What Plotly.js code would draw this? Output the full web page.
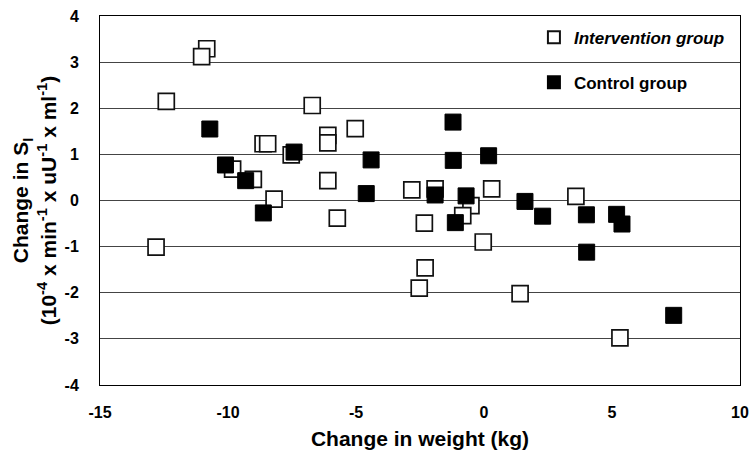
<!DOCTYPE html>
<html>
<head>
<meta charset="utf-8">
<script src="https://cdn.plot.ly/plotly-3.0.1.min.js"></script>
<style>html,body{margin:0;padding:0;background:#fff;}#chart{width:750px;height:458px;}</style>
</head>
<body>
<div id="chart"></div>
<script>
// Intervention group (open squares)
const interventionX = [-10.83, -11.03, -12.41, -6.71, -8.63, -8.45, -7.53, -9.82, -9.01, -8.20, -12.81, -5.03, -6.10, -6.10, -6.10, -2.82, -1.91, -0.51, -0.83, 0.30, -5.73, -2.33, -0.03, -2.30, -2.53, 3.59, 1.41, 5.31];
const interventionY = [3.29, 3.12, 2.15, 2.06, 1.23, 1.23, 0.99, 0.68, 0.46, 0.03, -1.01, 1.56, 1.41, 1.25, 0.43, 0.23, 0.25, -0.11, -0.33, 0.25, -0.38, -0.49, -0.90, -1.46, -1.90, 0.09, -2.02, -2.98];
// Control group (filled squares)
const controlX = [-10.71, -7.42, -10.10, -9.31, -8.62, -1.21, -4.41, -1.20, 0.18, -4.60, -1.91, -0.70, -1.12, 1.60, 2.29, 4.00, 5.18, 5.39, 4.01, 7.41];
const controlY = [1.55, 1.05, 0.77, 0.43, -0.27, 1.70, 0.88, 0.87, 0.97, 0.15, 0.12, 0.10, -0.48, -0.02, -0.34, -0.31, -0.30, -0.51, -1.12, -2.49];
const xTicks = [-15, -10, -5, 0, 5, 10];
const yTicks = [-4, -3, -2, -1, 0, 1, 2, 3, 4];

const font = 'Liberation Sans, Arial, sans-serif';

const traces = [
  {
    x: interventionX, y: interventionY, type: 'scatter', mode: 'markers',
    name: '<b><i>Intervention group</i></b>', legendgroup: 'a',
    marker: {symbol: 'square', size: 16, color: '#ffffff', line: {color: '#111', width: 1.7}}
  },
  {
    x: controlX, y: controlY, type: 'scatter', mode: 'markers',
    name: '<b>Control group</b>', legendgroup: 'b',
    marker: {symbol: 'square', size: 16, color: '#000000', line: {color: '#000', width: 1}}
  }
];

const layout = {
  width: 750, height: 458,
  margin: {l: 100, r: 10, t: 16, b: 73},
  paper_bgcolor: '#fff', plot_bgcolor: '#fff',
  font: {family: font, color: '#000', size: 13},
  showlegend: true,
  legend: {
    x: 0.678, y: 0.99, xanchor: 'left', yanchor: 'top',
    bgcolor: 'rgba(0,0,0,0)', borderwidth: 0,
    font: {family: font, size: 17, color: '#000'},
    tracegroupgap: 20, itemsizing: 'constant'
  },
  xaxis: {
    range: [-15, 10], tickvals: xTicks, ticktext: xTicks.map(v => '<b>' + v + '</b>'),
    showgrid: false, zeroline: false,
    showline: true, linecolor: '#000', linewidth: 1, mirror: true,
    ticks: '', ticklen: 0, ticklabelstandoff: 13,
    tickfont: {family: font, size: 16, color: '#000'},
    title: {text: '<b>Change in weight (kg)</b>', font: {family: font, size: 21, color: '#000'}, standoff: 11}
  },
  yaxis: {
    range: [-4, 4], tickvals: yTicks, ticktext: yTicks.map(v => '<b>' + v + '</b>'),
    showgrid: true, gridcolor: '#444', gridwidth: 1, zeroline: false,
    showline: true, linecolor: '#000', linewidth: 1, mirror: true,
    ticks: '', ticklen: 0, ticklabelstandoff: 17,
    tickfont: {family: font, size: 16, color: '#000'},
    title: {text: '<b>Change in S<sub>I</sub><br>(10<sup>-4</sup> x min<sup>-1</sup> x uU<sup>-1</sup> x ml<sup>-1</sup>)</b>', font: {family: font, size: 21, color: '#000'}, standoff: 2}
  }
};

Plotly.newPlot('chart', traces, layout, {displayModeBar: false, staticPlot: true});
</script>
</body>
</html>
